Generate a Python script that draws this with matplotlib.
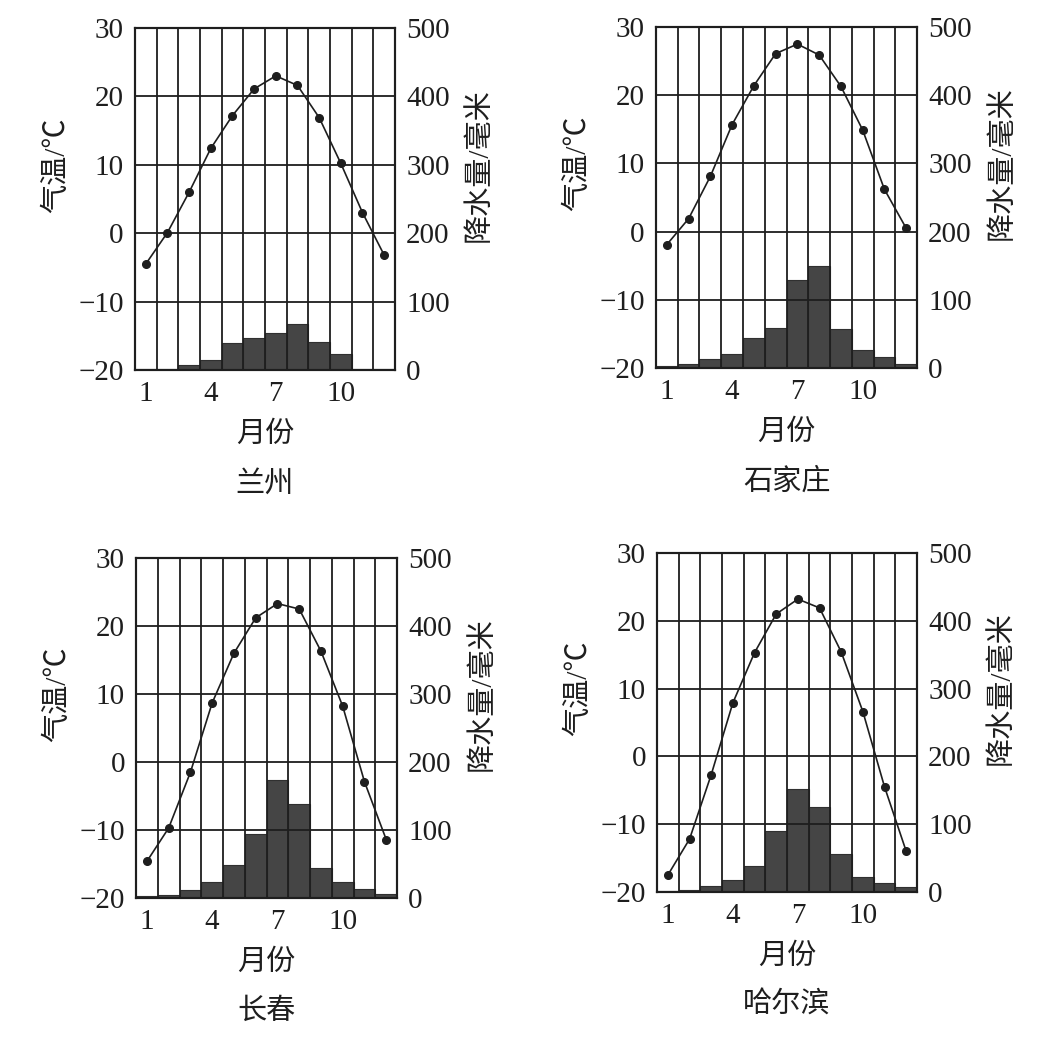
import matplotlib
matplotlib.use('Agg')
import matplotlib.pyplot as plt
import numpy as np

plt.rcParams['font.family'] = ['Liberation Serif', 'Noto Sans CJK SC']
plt.rcParams['axes.unicode_minus'] = True

months = np.arange(1, 13)
cities = ['兰州', '石家庄', '长春', '哈尔滨']

# monthly mean temperature (°C)
temp_lanzhou = [-4.5, 0.1, 6.0, 12.4, 17.2, 21.1, 23.0, 21.6, 16.9, 10.2, 3.0, -3.2]
temp_shijiazhuang = [-1.9, 1.9, 8.1, 15.7, 21.4, 26.1, 27.5, 25.9, 21.3, 14.9, 6.2, 0.5]
temp_changchun = [-14.6, -9.7, -1.5, 8.7, 16.0, 21.2, 23.3, 22.5, 16.3, 8.2, -2.9, -11.4]
temp_harbin = [-17.5, -12.2, -2.7, 7.9, 15.3, 21.0, 23.2, 21.9, 15.4, 6.6, -4.5, -14.0]

# monthly precipitation (mm)
prec_lanzhou = [1, 2, 7, 15, 39, 47, 54, 67, 41, 23, 2, 1]
prec_shijiazhuang = [3, 6, 13, 20, 44, 59, 129, 149, 57, 27, 16, 6]
prec_changchun = [3, 4, 12, 24, 48, 94, 173, 138, 44, 24, 13, 6]
prec_harbin = [2, 3, 9, 18, 38, 90, 152, 125, 56, 22, 13, 7]

temps = [temp_lanzhou, temp_shijiazhuang, temp_changchun, temp_harbin]
precs = [prec_lanzhou, prec_shijiazhuang, prec_changchun, prec_harbin]

# axes boxes in figure fractions [left, bottom, width, height]
boxes = [
    [0.1277, 0.6456, 0.2460, 0.3276],
    [0.6206, 0.6475, 0.2470, 0.3266],
    [0.1287, 0.1398, 0.2470, 0.3257],
    [0.6216, 0.1456, 0.2460, 0.3247],
]

fs = 21
fs_cn = 21
ink = '#1e1e1e'
fig = plt.figure(figsize=(10.57, 10.44), dpi=100)

for i in range(4):
    ax = fig.add_axes(boxes[i])
    ax2 = ax.twinx()
    ax.set_zorder(ax2.get_zorder() + 1)
    ax.patch.set_visible(False)

    ax2.bar(months, precs[i], width=1.0, color='#454545', edgecolor='#303030',
            linewidth=0.8, zorder=1)
    ax2.set_ylim(0, 500)
    ax2.set_yticks(np.arange(0, 501, 100))

    ax.set_xlim(0.5, 12.5)
    ax.set_ylim(-20, 30)
    ax.set_yticks(np.arange(-20, 31, 10))
    ax.set_xticks([1, 4, 7, 10])
    ax.set_xticks(np.arange(0.5, 12.6, 1), minor=True)
    ax.grid(True, which='minor', axis='x', color=ink, lw=1.3)
    ax.grid(True, which='major', axis='y', color=ink, lw=1.3)
    ax.plot(months, temps[i], color=ink, lw=1.2, marker='o',
            markersize=5.5, zorder=5)

    for a in (ax, ax2):
        for s in a.spines.values():
            s.set_color(ink)
            s.set_linewidth(1.5)
    ax.tick_params(axis='both', which='both', length=0, labelsize=fs,
                   colors=ink, pad=8)
    ax2.tick_params(axis='y', length=0, labelsize=fs, colors=ink, pad=8)

    ax.text(-0.30, 0.60, '气温/℃', transform=ax.transAxes, rotation=90,
            ha='center', va='center', fontsize=fs_cn, color=ink)
    ax2.text(1.325, 0.60, '降水量/毫米', transform=ax.transAxes, rotation=90,
             ha='center', va='center', fontsize=fs_cn, color=ink)
    ax.text(0.5, -0.19, '月份', transform=ax.transAxes, ha='center',
            va='center', fontsize=fs_cn, color=ink)
    ax.text(0.5, -0.335, cities[i], transform=ax.transAxes, ha='center',
            va='center', fontsize=fs_cn, color=ink)

fig.savefig('out.png', dpi=100, facecolor='white')
